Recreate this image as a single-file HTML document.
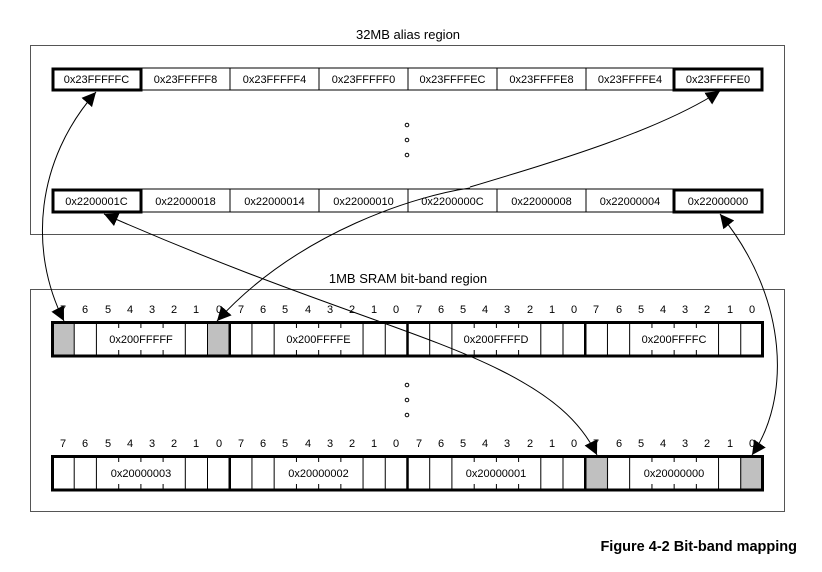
<!DOCTYPE html>
<html><head><meta charset="utf-8"><style>
html,body{margin:0;padding:0;background:#fff}
svg{display:block}
text{font-family:"Liberation Sans",Arial,sans-serif}
</style></head><body>
<svg width="822" height="572" viewBox="0 0 822 572" xmlns="http://www.w3.org/2000/svg">
<defs>
<marker id="ah" viewBox="0 0 10 10" refX="10" refY="5" markerWidth="14" markerHeight="14" markerUnits="userSpaceOnUse" orient="auto-start-reverse">
<path d="M0,0 L10,5 L0,10 z" fill="#000"/>
</marker>
<g id="byte">
<line x1="22.2" y1="0" x2="22.2" y2="34" stroke="#000" stroke-width="1"/>
<line x1="44.4" y1="0" x2="44.4" y2="34" stroke="#000" stroke-width="1"/>
<line x1="133.3" y1="0" x2="133.3" y2="34" stroke="#000" stroke-width="1"/>
<line x1="155.5" y1="0" x2="155.5" y2="34" stroke="#000" stroke-width="1"/>
<line x1="66.7" y1="0" x2="66.7" y2="6" stroke="#000" stroke-width="1"/>
<line x1="88.9" y1="0" x2="88.9" y2="6" stroke="#000" stroke-width="1"/>
<line x1="111.1" y1="0" x2="111.1" y2="6" stroke="#000" stroke-width="1"/>
<line x1="66.7" y1="28" x2="66.7" y2="34" stroke="#000" stroke-width="1"/>
<line x1="88.9" y1="28" x2="88.9" y2="34" stroke="#000" stroke-width="1"/>
<line x1="111.1" y1="28" x2="111.1" y2="34" stroke="#000" stroke-width="1"/>
</g>
</defs>

<text x="408" y="39" font-size="13" text-anchor="middle">32MB alias region</text>
<rect x="30.5" y="45.5" width="754" height="189" fill="none" stroke="#555" stroke-width="1"/>

<g font-size="11" text-anchor="middle">
<rect x="52" y="68" width="710" height="22" fill="#fff" stroke="#000" stroke-width="1"/>
<line x1="141" y1="68" x2="141" y2="90" stroke="#000"/><line x1="230" y1="68" x2="230" y2="90" stroke="#000"/>
<line x1="319" y1="68" x2="319" y2="90" stroke="#000"/><line x1="408" y1="68" x2="408" y2="90" stroke="#000"/>
<line x1="497" y1="68" x2="497" y2="90" stroke="#000"/><line x1="586" y1="68" x2="586" y2="90" stroke="#000"/>
<rect x="53" y="69" width="88" height="21" fill="none" stroke="#000" stroke-width="3"/>
<rect x="674" y="69" width="88" height="21" fill="none" stroke="#000" stroke-width="3"/>
<text x="96.5" y="83">0x23FFFFFC</text><text x="185.5" y="83">0x23FFFFF8</text>
<text x="274.5" y="83">0x23FFFFF4</text><text x="363.5" y="83">0x23FFFFF0</text>
<text x="452.5" y="83">0x23FFFFEC</text><text x="541.5" y="83">0x23FFFFE8</text>
<text x="630" y="83">0x23FFFFE4</text><text x="718" y="83">0x23FFFFE0</text>
<rect x="52" y="189" width="710" height="23" fill="#fff" stroke="#000" stroke-width="1"/>
<line x1="141" y1="189" x2="141" y2="212" stroke="#000"/><line x1="230" y1="189" x2="230" y2="212" stroke="#000"/>
<line x1="319" y1="189" x2="319" y2="212" stroke="#000"/><line x1="408" y1="189" x2="408" y2="212" stroke="#000"/>
<line x1="497" y1="189" x2="497" y2="212" stroke="#000"/><line x1="586" y1="189" x2="586" y2="212" stroke="#000"/>
<rect x="53" y="190" width="88" height="22" fill="none" stroke="#000" stroke-width="3"/>
<rect x="674" y="190" width="88" height="22" fill="none" stroke="#000" stroke-width="3"/>
<text x="96.5" y="205">0x2200001C</text><text x="185.5" y="205">0x22000018</text>
<text x="274.5" y="205">0x22000014</text><text x="363.5" y="205">0x22000010</text>
<text x="452.5" y="205">0x2200000C</text><text x="541.5" y="205">0x22000008</text>
<text x="630" y="205">0x22000004</text><text x="718" y="205">0x22000000</text>
</g>
<g fill="none" stroke="#000" stroke-width="1">
<circle cx="407" cy="125" r="1.8"/><circle cx="407" cy="140" r="1.8"/><circle cx="407" cy="155" r="1.8"/>
<circle cx="407" cy="385" r="1.8"/><circle cx="407" cy="400" r="1.8"/><circle cx="407" cy="415" r="1.8"/>
</g>

<text x="408" y="283" font-size="13" text-anchor="middle">1MB SRAM bit-band region</text>
<rect x="30.5" y="289.5" width="754" height="222" fill="none" stroke="#555" stroke-width="1"/>

<g font-size="11" text-anchor="middle">
<g id="nums">
<text x="63" y="313">7</text><text x="85" y="313">6</text><text x="108" y="313">5</text><text x="130" y="313">4</text><text x="152" y="313">3</text><text x="174" y="313">2</text><text x="196" y="313">1</text><text x="219" y="313">0</text>
<text x="241" y="313">7</text><text x="263" y="313">6</text><text x="285" y="313">5</text><text x="308" y="313">4</text><text x="330" y="313">3</text><text x="352" y="313">2</text><text x="374" y="313">1</text><text x="396" y="313">0</text>
<text x="419" y="313">7</text><text x="441" y="313">6</text><text x="463" y="313">5</text><text x="485" y="313">4</text><text x="507" y="313">3</text><text x="530" y="313">2</text><text x="552" y="313">1</text><text x="574" y="313">0</text>
<text x="596" y="313">7</text><text x="619" y="313">6</text><text x="641" y="313">5</text><text x="663" y="313">4</text><text x="685" y="313">3</text><text x="707" y="313">2</text><text x="730" y="313">1</text><text x="752" y="313">0</text>
</g>
<use href="#nums" transform="translate(0,134)"/>
</g>

<rect x="52" y="322" width="22.2" height="34" fill="#c0c0c0"/>
<rect x="207.5" y="322" width="22.2" height="34" fill="#c0c0c0"/>
<rect x="586" y="456" width="22.2" height="34" fill="#c0c0c0"/>
<rect x="740" y="456" width="22.2" height="34" fill="#c0c0c0"/>

<use href="#byte" transform="translate(52,322)"/><use href="#byte" transform="translate(229.75,322)"/>
<use href="#byte" transform="translate(407.5,322)"/><use href="#byte" transform="translate(585.25,322)"/>
<use href="#byte" transform="translate(52,456)"/><use href="#byte" transform="translate(229.75,456)"/>
<use href="#byte" transform="translate(407.5,456)"/><use href="#byte" transform="translate(585.25,456)"/>
<g stroke="#000" stroke-width="2.5">
<line x1="229.75" y1="322" x2="229.75" y2="356"/><line x1="407.5" y1="322" x2="407.5" y2="356"/><line x1="585.25" y1="322" x2="585.25" y2="356"/>
<line x1="229.75" y1="456" x2="229.75" y2="490"/><line x1="407.5" y1="456" x2="407.5" y2="490"/><line x1="585.25" y1="456" x2="585.25" y2="490"/>
</g>
<rect x="52.5" y="322.5" width="710" height="33.5" fill="none" stroke="#000" stroke-width="3"/>
<rect x="52.5" y="456.5" width="710" height="33.5" fill="none" stroke="#000" stroke-width="3"/>
<g font-size="11" text-anchor="middle">
<text x="141" y="343">0x200FFFFF</text><text x="318.5" y="343">0x200FFFFE</text>
<text x="496" y="343">0x200FFFFD</text><text x="674" y="343">0x200FFFFC</text>
<text x="141" y="477">0x20000003</text><text x="318.5" y="477">0x20000002</text>
<text x="496" y="477">0x20000001</text><text x="674" y="477">0x20000000</text>
</g>

<g fill="none" stroke="#000" stroke-width="1">
<path d="M64,321 C 28,250 36,160 96,92" marker-start="url(#ah)" marker-end="url(#ah)"/>
<path d="M217,321 C 300,230 420,195 470,188" marker-start="url(#ah)"/>
<path d="M470,187 C 560,160 660,130 720,91" marker-end="url(#ah)"/>
<path d="M104,214 C 300,300 420,330 500,370 C 550,395 580,420 597,455" marker-start="url(#ah)" marker-end="url(#ah)"/>
<path d="M720,214 C 790,300 790,400 752,455" marker-start="url(#ah)" marker-end="url(#ah)"/>
</g>

<text x="797" y="551" font-size="14.5" font-weight="bold" text-anchor="end">Figure 4-2 Bit-band mapping</text>
</svg>
</body></html>
